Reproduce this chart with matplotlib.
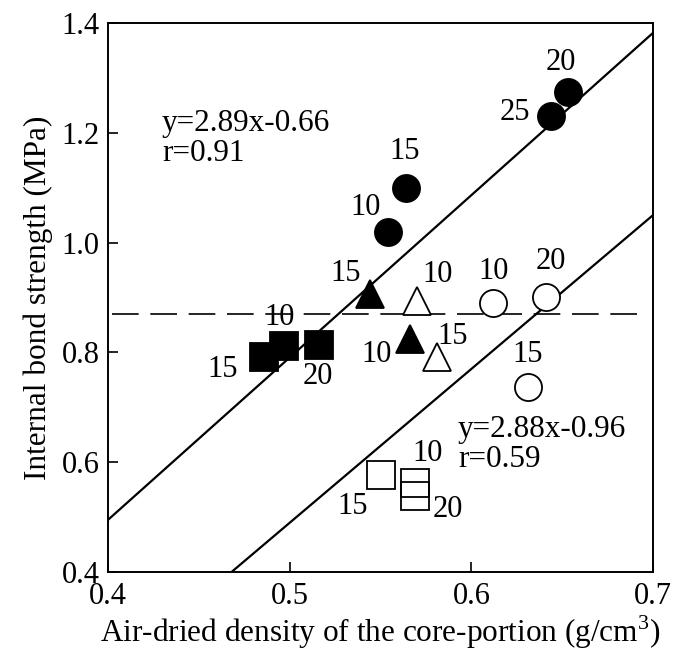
import matplotlib
matplotlib.use("Agg")
import matplotlib.pyplot as plt

plt.rcParams['font.family'] = ['Liberation Serif', 'DejaVu Serif']
plt.rcParams['mathtext.fontset'] = 'custom'
plt.rcParams['mathtext.rm'] = 'Liberation Serif'

# ---- data ----
fc_x = [0.554, 0.564, 0.644, 0.653]          # filled circles
fc_y = [1.020, 1.100, 1.230, 1.275]
fc_lab = ["10", "15", "25", "20"]

ft_x = [0.544, 0.566]                        # filled triangles
ft_y = [0.906, 0.825]
ft_lab = ["15", "10"]

ot_x = [0.570, 0.581]                        # open triangles
ot_y = [0.894, 0.792]
ot_lab = ["10", "15"]

oc_x = [0.612, 0.641, 0.631]                 # open circles
oc_y = [0.890, 0.901, 0.737]
oc_lab = ["10", "20", "15"]

fs_x = [0.486, 0.497, 0.516]                 # filled squares
fs_y = [0.792, 0.812, 0.814]
fs_lab = ["15", "10", "20"]

os_x = [0.550, 0.569, 0.569]                 # open squares
os_y = [0.577, 0.562, 0.538]
os_lab = ["15", "10", "20"]

upper_line_x = [0.4, 0.7]
upper_line_y = [0.495, 1.382]
lower_line_x = [0.468, 0.7]
lower_line_y = [0.400, 1.050]
ref_level = 0.87
ref_x = [0.402, 0.694]

eq_upper = "y=2.89x-0.66\nr=0.91"
eq_lower = "y=2.88x-0.96\nr=0.59"

x_ticks = [0.4, 0.5, 0.6, 0.7]
y_ticks = [0.4, 0.6, 0.8, 1.0, 1.2, 1.4]

# ---- label offsets (pixels: right, down) ----
fc_off = [(-22, -24), (-1, -36), (-36, -4), (-7, -29)]
ft_off = [(-24, -21), (-33, 16)]
ot_off = [(21, -26), (16, -20)]
oc_off = [(0, -31), (5, -35), (0, -32)]
fs_off = [(-42, 13), (-5, -28), (-1, 32)]
os_off = [(-28, 32), (13, -30), (33, 13)]

fig = plt.figure(figsize=(6.76, 6.52), dpi=100)
ax = fig.add_axes([108/676, 1-572/652, (653-108)/676, (572-23)/652])

ax.plot(upper_line_x, upper_line_y, color='black', lw=1.6, zorder=2)
ax.plot(lower_line_x, lower_line_y, color='black', lw=1.6, zorder=2)
ax.plot(ref_x, [ref_level, ref_level], color='black', lw=1.2,
        dashes=(16, 7), zorder=1)

ms = 19.5
mew = 1.3
ax.plot(fc_x, fc_y, 'o', ms=ms, mfc='black', mec='black', mew=mew, ls='none', zorder=3)
ax.plot(ft_x, ft_y, '^', ms=ms, mfc='black', mec='black', mew=mew, ls='none', zorder=3)
ax.plot(ot_x, ot_y, '^', ms=ms, mfc='white', mec='black', mew=mew, ls='none', zorder=3)
ax.plot(oc_x, oc_y, 'o', ms=ms, mfc='white', mec='black', mew=mew, ls='none', zorder=3)
ax.plot(fs_x, fs_y, 's', ms=ms, mfc='black', mec='black', mew=mew, ls='none', zorder=3)
ax.plot(os_x, os_y, 's', ms=ms, mfc='none', mec='black', mew=mew, ls='none', zorder=3)

fs_num = 22
for xs, ys, labs, offs in [(fc_x, fc_y, fc_lab, fc_off), (ft_x, ft_y, ft_lab, ft_off),
                           (ot_x, ot_y, ot_lab, ot_off), (oc_x, oc_y, oc_lab, oc_off),
                           (fs_x, fs_y, fs_lab, fs_off), (os_x, os_y, os_lab, os_off)]:
    for x, y, lab, (dx, dy) in zip(xs, ys, labs, offs):
        ax.annotate(lab, (x, y), xytext=(dx * 0.72, -dy * 0.72), textcoords='offset points',
                    ha='center', va='center', fontsize=fs_num, zorder=4)

ax.text(0.4297, 1.19, eq_upper, ha='left', va='center', fontsize=22.5,
        linespacing=1.05)
ax.text(0.5926, 0.632, eq_lower, ha='left', va='center', fontsize=22.5,
        linespacing=1.05)

ax.set_xlim(0.4, 0.7)
ax.set_ylim(0.4, 1.4)
ax.set_xticks(x_ticks)
ax.set_yticks(y_ticks)
ax.set_xticklabels([f"{t:.1f}" for t in x_ticks])
ax.set_yticklabels([f"{t:.1f}" for t in y_ticks])
ax.tick_params(direction='in', length=7, width=1.2, labelsize=22, top=False, right=False)
ax.tick_params(axis='x', pad=7)
ax.tick_params(axis='y', pad=6)
for s in ax.spines.values():
    s.set_linewidth(1.4)

ax.set_xlabel("Air-dried density of the core-portion (g/cm$^3$)", fontsize=22.5, labelpad=2)
ax.set_ylabel("Internal bond strength (MPa)", fontsize=22.5, labelpad=6)

fig.savefig("out.png", dpi=100)
